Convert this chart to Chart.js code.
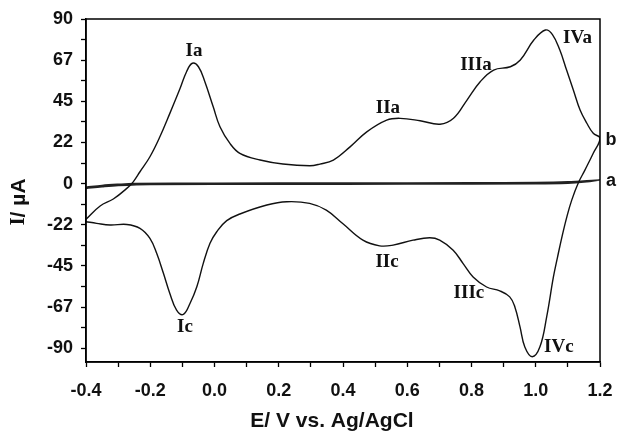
<!DOCTYPE html>
<html>
<head>
<meta charset="utf-8">
<script src="https://cdn.jsdelivr.net/npm/chart.js@4.4.0/dist/chart.umd.min.js"></script>
<style>
  html, body { margin: 0; padding: 0; background: #fff; }
  #wrap { width: 618px; height: 432px; }
</style>
</head>
<body>
<div id="wrap"><canvas id="cv"></canvas></div>
<script>
// Curve b: anodic sweep from -0.4 V up to 1.2 V, then the cathodic sweep back
const potentialB = [
    // anodic
    -0.40, -0.356, -0.315, -0.273, -0.253, -0.232, -0.201, -0.170, -0.139, -0.107, -0.087, -0.069,
    -0.050, -0.030, -0.004, 0.017, 0.048, 0.079, 0.142, 0.213, 0.297, 0.328, 0.370, 0.422, 0.474,
    0.536, 0.578, 0.640, 0.702, 0.744, 0.786, 0.827, 0.869, 0.921, 0.952, 0.994, 1.030, 1.052,
    1.075, 1.096, 1.117, 1.138, 1.159, 1.179, 1.2,
    // cathodic
    1.179, 1.153, 1.132, 1.112, 1.097, 1.083, 1.068, 1.055, 1.034, 1.013, 0.989, 0.966, 0.951,
    0.935, 0.919, 0.888, 0.847, 0.805, 0.774, 0.743, 0.701, 0.670, 0.618, 0.556, 0.514, 0.462,
    0.399, 0.348, 0.296, 0.225, 0.163, 0.079, 0.038, 0.007, -0.014, -0.035, -0.055, -0.076,
    -0.097, -0.118, -0.139, -0.159, -0.180, -0.201, -0.232, -0.273, -0.325, -0.367, -0.40
];
const currentB = [
    // anodic
    -19.5, -12.2, -8.4, -2.6, 1.0, 6.5, 14.7, 25.6, 38.4, 52.1, 61.2, 65.8,
    63.9, 55.7, 42.0, 31.1, 22.0, 16.6, 12.9, 10.7, 9.8, 10.7, 12.9, 20.1, 28.3,
    34.7, 35.7, 34.4, 32.5, 35.7, 45.7, 55.7, 62.1, 63.9, 67.6, 78.5, 84.0, 81.5,
    73.0, 62.1, 51.2, 40.2, 33.0, 27.5, 24.8,
    // cathodic
    16.6, 7.4, 0.2, -9.0, -18.0, -28.0, -40.0, -51.0, -72.8, -89.2, -94.6, -89.3, -78.3,
    -67.4, -61.9, -58.6, -56.5, -51.0, -43.7, -36.4, -30.9, -29.6, -30.9, -33.6, -34.0, -30.9,
    -21.8, -14.5, -10.8, -9.9, -11.7, -16.6, -20.2, -26.3, -32.6, -43.6, -56.4, -65.4,
    -71.5, -69.1, -60.0, -49.0, -38.1, -29.9, -24.4, -22.3, -22.6, -21.7, -20.8
];

// Curve a: nearly flat background loop
const potentialA = [-0.40, -0.35, -0.30, -0.25, 0.0, 0.4, 0.8, 1.0, 1.1, 1.2, 1.15, 1.1, 1.0, 0.6, 0.2, -0.2, -0.3, -0.35, -0.40];
const currentA = [-2.0, -1.0, -0.4, 0.0, 0.2, 0.3, 0.4, 0.6, 1.0, 2.0, 0.9, 0.3, 0.0, -0.2, -0.3, -0.4, -1.0, -1.7, -2.6];

// Axis ticks (every other one is labelled)
const xTicks = [-0.4, -0.3, -0.2, -0.1, 0.0, 0.1, 0.2, 0.3, 0.4, 0.5, 0.6, 0.7, 0.8, 0.9, 1.0, 1.1, 1.2];
const xTickLabels = ['-0.4', '', '-0.2', '', '0.0', '', '0.2', '', '0.4', '', '0.6', '', '0.8', '', '1.0', '', '1.2'];
const yTicks = [-90, -78.75, -67.5, -56.25, -45, -33.75, -22.5, -11.25, 0, 11.25, 22.5, 33.75, 45, 56.25, 67.5, 78.75, 90];
const yTickLabels = ['-90', '', '-67', '', '-45', '', '-22', '', '0', '', '22', '', '45', '', '67', '', '90'];

// Peak names, anchored in data units (E, I)
const peakNames = ['Ia', 'IIa', 'IIIa', 'IVa', 'Ic', 'IIc', 'IIIc', 'IVc'];
const peakE = [-0.064, 0.540, 0.814, 1.130, -0.092, 0.537, 0.792, 1.072];
const peakI = [72.5, 41.3, 64.8, 79.6, -78.4, -42.9, -59.6, -89.3];

// Curve names next to the right edge
const curveNames = ['b', 'a'];
const curveNameE = [1.234, 1.234];
const curveNameI = [23.8, 1.4];

const toPoints = (xs, ys) => xs.map((x, i) => ({ x: x, y: ys[i] }));
const useTicks = (values) => (scale) => { scale.ticks = values.map(v => ({ value: v })); };

const sans = '"Liberation Sans", Arial, sans-serif';
const serif = '"Liberation Serif", "Times New Roman", serif';

// Box around the plot, peak names and axis titles
const decorations = {
    id: 'decorations',
    afterDraw(chart) {
        const { ctx, chartArea: area, scales: { x, y } } = chart;
        ctx.save();
        ctx.strokeStyle = '#000';
        ctx.lineWidth = 1.5;
        ctx.strokeRect(area.left, area.top, area.right - area.left, area.bottom - area.top);

        ctx.fillStyle = '#111';
        ctx.textAlign = 'center';
        ctx.textBaseline = 'middle';
        ctx.font = 'bold 19px ' + serif;
        peakNames.forEach((name, i) => {
            ctx.fillText(name, x.getPixelForValue(peakE[i]), y.getPixelForValue(peakI[i]));
        });

        ctx.font = 'bold 18px ' + sans;
        curveNames.forEach((name, i) => {
            ctx.fillText(name, x.getPixelForValue(curveNameE[i]), y.getPixelForValue(curveNameI[i]));
        });

        ctx.font = 'bold 21px ' + sans;
        ctx.fillText('E/ V vs. Ag/AgCl', 332, 421);

        // y title: serif "I", the rest in sans
        ctx.translate(19, 202);
        ctx.rotate(-Math.PI / 2);
        ctx.textAlign = 'left';
        ctx.font = 'bold 21px ' + serif;
        const wI = ctx.measureText('I').width;
        ctx.font = 'bold 21px ' + sans;
        const wRest = ctx.measureText('/ µA').width;
        const start = -(wI + wRest) / 2;
        ctx.font = 'bold 21px ' + serif;
        ctx.fillText('I', start, 0);
        ctx.font = 'bold 21px ' + sans;
        ctx.fillText('/ µA', start + wI, 0);
        ctx.restore();
    }
};

const axisGrid = {
    display: true,
    drawOnChartArea: false,
    drawTicks: true,
    tickLength: 5,
    tickColor: '#000',
    tickWidth: 1.3
};

new Chart(document.getElementById('cv'), {
    type: 'line',
    data: {
        datasets: [
            {
                label: 'b',
                data: toPoints(potentialB, currentB),
                borderColor: '#111',
                borderWidth: 1.4,
                tension: 0.4,
                pointRadius: 0,
                fill: false
            },
            {
                label: 'a',
                data: toPoints(potentialA, currentA),
                borderColor: '#222',
                borderWidth: 1.6,
                tension: 0.35,
                pointRadius: 0,
                fill: false
            }
        ]
    },
    options: {
        responsive: true,
        maintainAspectRatio: false,
        animation: false,
        layout: { padding: { left: 0, top: 19, right: 18, bottom: 0 } },
        plugins: {
            legend: { display: false },
            tooltip: { enabled: false }
        },
        scales: {
            x: {
                type: 'linear',
                min: -0.4,
                max: 1.2,
                afterBuildTicks: useTicks(xTicks),
                afterFit: (scale) => {
                    scale.height = 70;
                    // the outer layout padding already leaves room for the end labels
                    scale.paddingLeft = 0;
                    scale.paddingRight = 0;
                },
                grid: axisGrid,
                border: { display: true, color: '#000', width: 1.5 },
                ticks: {
                    autoSkip: false,
                    maxRotation: 0,
                    padding: 13,
                    color: '#111',
                    font: { family: sans, size: 18, weight: 'bold' },
                    callback: (value, index) => xTickLabels[index]
                }
            },
            y: {
                type: 'linear',
                min: -97.5,
                max: 90,
                afterBuildTicks: useTicks(yTicks),
                afterFit: (scale) => { scale.width = 86; },
                grid: axisGrid,
                border: { display: true, color: '#000', width: 1.5 },
                ticks: {
                    autoSkip: false,
                    padding: 8,
                    color: '#111',
                    font: { family: sans, size: 18, weight: 'bold' },
                    callback: (value, index) => yTickLabels[index]
                }
            }
        }
    },
    plugins: [decorations]
});
</script>
</body>
</html>
